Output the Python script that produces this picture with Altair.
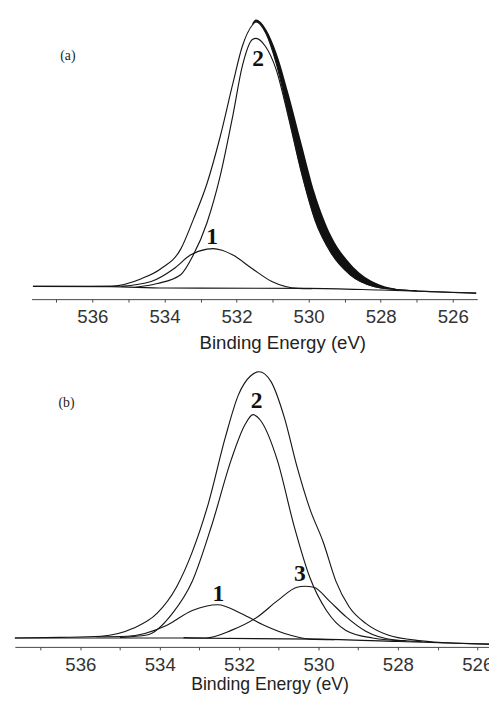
import altair as alt
import pandas as pd

# ---------------- Panel (a) ----------------
A_ENV_E = [537.65, 536.5, 535.46, 534.64, 534.1, 533.55, 533.2, 532.82, 532.46, 532.1, 531.84, 531.56, 531.46,
           531.18, 530.9, 530.56, 530.2, 529.82, 529.38, 528.84, 528.19, 527.56, 526.5, 525.35]
A_ENV_V = [4.5, 4.5, 4.6, 7.2, 10.7, 17.6, 28, 40.7, 56.9, 76, 89, 96.5, 97.6,
           93.4, 83, 64.8, 45, 28, 16.5, 8.6, 4.5, 3.4, 2.6, 2.1]
# noisy raw data band on the low-energy side
A_BAND_E = [531.56, 531.46, 531.18, 530.9, 530.56, 530.2, 529.82, 529.38, 528.84, 528.19, 527.56]
A_BAND_IN = [96.5, 97.6, 93.4, 83, 64.8, 45, 28, 16.5, 8.6, 4.5, 3.4]
A_BAND_OUT = [97.2, 98.4, 95.0, 87.0, 72.5, 55.0, 37.0, 22.5, 12.5, 6.0, 3.6]
A_C2_E = [534.8, 534.2, 533.55, 533.2, 532.82, 532.46, 532.1, 531.84, 531.56, 531.46, 531.2, 530.9, 530.56,
          530.2, 529.82, 529.38, 528.84, 528.19, 527.56, 527.0]
A_C2_V = [4.2, 5.5, 8.6, 15.5, 26.9, 43, 64.8, 82, 91.4, 91.8, 89, 80.8, 64,
          44.5, 27.7, 16.3, 8.5, 4.5, 3.4, 3.0]
A_C1_E = [535.2, 534.37, 533.74, 533.28, 532.82, 532.65, 532.4, 532.1, 531.56, 531.02, 530.29, 529.9]
A_C1_V = [4.5, 6.2, 10.7, 15.5, 17.6, 17.8, 17.2, 15.5, 10.7, 6.2, 3.8, 3.7]
A_BG_E = [537.65, 535.5, 534.0, 530.0, 528.0, 525.35]
A_BG_V = [4.5, 4.4, 3.9, 3.8, 3.2, 2.1]
A_LBL_E = [531.4, 532.68]
A_LBL_V = [84.5, 21.7]
A_LBL_T = ["2", "1"]
A_TAG = "(a)"
A_TAG_E, A_TAG_V = 536.68, 85.5

# ---------------- Panel (b) ----------------
B_ENV_E = [537.65, 536.5, 535.48, 534.67, 534.07, 533.58, 533.18, 532.77, 532.35, 532.02, 531.7, 531.5,
           531.2, 530.86, 530.54, 530.22, 529.88, 529.56, 529.23, 528.81, 528.25, 527.41, 526.5, 525.68]
B_ENV_V = [4.4, 4.6, 5.0, 7.7, 12.8, 21.8, 33.9, 50.7, 73, 87.6, 94.3, 95.6,
           92.3, 79.9, 63, 48.7, 37.2, 23.8, 15.1, 9.4, 5.4, 3.4, 2.6, 2.3]
B_C2_E = [535.0, 534.32, 533.68, 533.18, 532.69, 532.2, 531.85, 531.65, 531.46, 531.04, 530.62, 530.22,
          529.8, 529.31, 528.64, 527.8]
B_C2_V = [4.6, 5.4, 12.8, 23.8, 43, 65.4, 77.5, 80.9, 78.9, 65.4, 43, 25.2, 13.8, 7, 4.4, 3.4]
B_C1_E = [535.6, 534.82, 533.83, 533.18, 532.54, 531.95, 531.36, 530.72, 530.22, 529.6]
B_C1_V = [4.8, 5.0, 8.7, 13.8, 15.8, 12.8, 8.7, 5.4, 4.0, 3.8]
B_C3_E = [533.4, 532.84, 532.2, 531.53, 531.04, 530.54, 530.35, 530.12, 529.73, 529.31, 528.81, 528.07, 527.4]
B_C3_V = [4.5, 4.4, 7, 11.7, 17.1, 21.8, 22.1, 21.8, 17.1, 11.7, 6.7, 3.7, 3.2]
B_BG_E = [537.65, 534.0, 530.0, 528.0, 525.68]
B_BG_V = [4.4, 4.4, 4.0, 3.2, 2.3]
B_LBL_E = [531.56, 532.52, 530.47]
B_LBL_V = [85.6, 19.5, 26.2]
B_LBL_T = ["2", "1", "3"]
B_TAG = "(b)"
B_TAG_E, B_TAG_V = 536.35, 84.9

TICKS = list(range(526, 538))
XTITLE = "Binding Energy (eV)"


def series(E, V, name):
    return pd.DataFrame({"eV": E, "I": V, "s": name})


def panel(curves, band, labels, tag, xdom, ydom, width, height, title_x, lab_pad, title_pad, title_size):
    xenc = alt.X("eV:Q",
                 scale=alt.Scale(domain=xdom, reverse=True, nice=False, zero=False),
                 axis=alt.Axis(values=TICKS, labelExpr="datum.value % 2 == 0 ? datum.label : ''",
                               title=XTITLE, grid=False, titleX=title_x, titleFontSize=title_size,
                               labelPadding=lab_pad, titlePadding=title_pad))
    ysc = alt.Scale(domain=ydom, nice=False, zero=False)
    yenc = alt.Y("I:Q", scale=ysc, axis=None)
    df = pd.concat(curves, ignore_index=True)
    lines = alt.Chart(df).mark_line(interpolate="monotone", color="#151515", strokeWidth=1.15).encode(
        x=xenc, y=yenc, detail="s:N", order=alt.Order("eV:Q", sort="descending"))
    layers = []
    if band is not None:
        layers.append(alt.Chart(band).mark_area(interpolate="monotone", color="#111").encode(
            x=xenc, y=alt.Y("out:Q", scale=ysc, axis=None), y2="inn:Q"))
    layers.append(lines)
    layers.append(alt.Chart(labels).mark_text(font="Liberation Serif", fontWeight="bold", fontSize=24,
                                              color="#111", baseline="middle", align="center").encode(
        x=xenc, y=yenc, text="t:N"))
    layers.append(alt.Chart(tag).mark_text(font="Liberation Serif", fontSize=14, color="#222",
                                           baseline="middle", align="center").encode(
        x=xenc, y=yenc, text="t:N"))
    return alt.layer(*layers).properties(width=width, height=height)


a_curves = [series(A_BG_E, A_BG_V, "bg"), series(A_C1_E, A_C1_V, "c1"), series(A_C2_E, A_C2_V, "c2"),
            series(A_ENV_E, A_ENV_V, "env")]
a_band = pd.DataFrame({"eV": A_BAND_E, "inn": A_BAND_IN, "out": A_BAND_OUT})
a_labels = pd.DataFrame({"eV": A_LBL_E, "I": A_LBL_V, "t": A_LBL_T})
a_tag = pd.DataFrame({"eV": [A_TAG_E], "I": [A_TAG_V], "t": [A_TAG]})

b_curves = [series(B_BG_E, B_BG_V, "bg"), series(B_C1_E, B_C1_V, "c1"), series(B_C2_E, B_C2_V, "c2"),
            series(B_C3_E, B_C3_V, "c3"), series(B_ENV_E, B_ENV_V, "env")]
b_labels = pd.DataFrame({"eV": B_LBL_E, "I": B_LBL_V, "t": B_LBL_T})
b_tag = pd.DataFrame({"eV": [B_TAG_E], "I": [B_TAG_V], "t": [B_TAG]})

pa = panel(a_curves, a_band, a_labels, a_tag, [525.32, 537.69], [0, 100], 455, 290, 256, 6, 7, 19)
pb = panel(b_curves, None, b_labels, b_tag, [525.68, 537.65], [1.34, 100], 485, 294, 260, 6, 1, 18)

spacer = alt.Chart(pd.DataFrame({"z": [0]})).mark_point(opacity=0).encode(
    x=alt.X("z:Q", axis=None), y=alt.Y("z:Q", axis=None)).properties(width=16, height=290)

chart = alt.vconcat(alt.hconcat(spacer, pa, spacing=0), pb, spacing=7).properties(
    padding={"left": 4, "top": 0, "right": -4, "bottom": 0}
).configure_view(stroke=None).configure_axis(
    labelFont="Liberation Sans", labelFontSize=19, labelColor="#333",
    titleFont="Liberation Sans", titleFontSize=19, titleFontWeight="normal", titleColor="#222",
    domainColor="#444", tickColor="#444", tickSize=3
)

chart.save("out.html", embed_options={"renderer": "svg", "actions": False})
